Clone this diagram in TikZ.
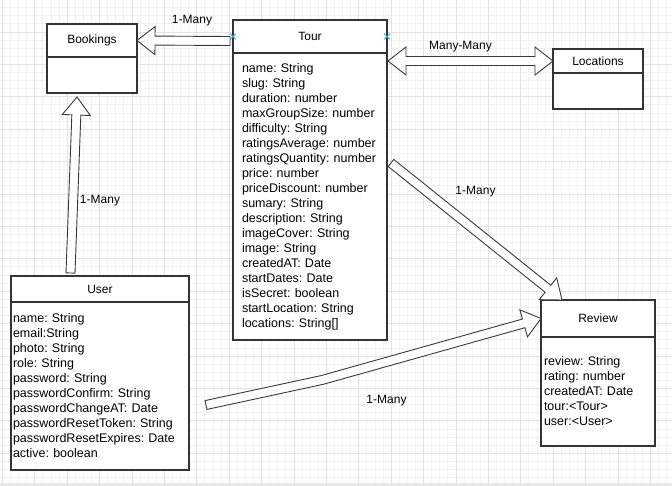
\documentclass[tikz,border=0pt]{standalone}
\usepackage{fontspec}
\setmainfont{Liberation Sans}
\usepackage{tikz}
\usetikzlibrary{positioning,calc,shapes.misc}
\definecolor{UmlLine}{HTML}{333333}
\definecolor{UmlArrow}{HTML}{3A3A3A}
\definecolor{UmlGridMinor}{HTML}{F2F2F2}
\definecolor{UmlGridMajor}{HTML}{E3E3E3}
\definecolor{UmlPin}{HTML}{3FA9E0}
\definecolor{UmlEdge}{HTML}{E8E8E8}
\frenchspacing
\tikzset{
  titlefont/.style={font=\fontsize{12}{14}\selectfont},
  attrfont/.style={font=\fontsize{12.5}{15}\selectfont},
  classhead/.style={draw=UmlLine, line width=1.3pt, fill=white, outer sep=0pt,
    inner sep=0pt, titlefont},
  classbody/.style={draw=UmlLine, line width=1.3pt, fill=white, outer sep=0pt,
    inner ysep=0pt, align=left, attrfont,
    execute at begin node={\frenchspacing\hyphenpenalty=10000}},
  flex/.style={draw=UmlArrow, line width=0.9pt, fill=white, line join=miter},
  relation/.style={titlefont, inner sep=1pt},
  xmark/.style={cross out, draw=UmlPin, line width=0.8pt, minimum size=5pt, inner sep=0pt},
  minorgrid/.style={draw=UmlGridMinor, line width=0.8pt},
  majorgrid/.style={draw=UmlGridMajor, line width=0.8pt}
}
% hollow wide arrow: start, tip
\newcommand{\flexarrow}[2]{%
  \coordinate (flexbase) at ($(#2)!18pt!(#1)$);
  \draw[flex] ($(#1)!4.5pt!90:(#2)$) -- ($(flexbase)!4.5pt!90:(#2)$)
    -- ($(flexbase)!14pt!90:(#2)$) -- (#2) -- ($(flexbase)!14pt!-90:(#2)$)
    -- ($(flexbase)!4.5pt!-90:(#2)$) -- ($(#1)!4.5pt!-90:(#2)$) -- cycle;}
% same, with one bend: start, bend, tip
\newcommand{\flexbent}[3]{%
  \coordinate (flexbase) at ($(#3)!18pt!(#2)$);
  \draw[flex] ($(#1)!4.5pt!90:(#2)$) -- ($(#2)!4.5pt!90:(#3)$)
    -- ($(flexbase)!4.5pt!90:(#3)$) -- ($(flexbase)!14pt!90:(#3)$) -- (#3)
    -- ($(flexbase)!14pt!-90:(#3)$) -- ($(flexbase)!4.5pt!-90:(#3)$)
    -- ($(#2)!4.5pt!-90:(#3)$) -- ($(#1)!4.5pt!-90:(#2)$) -- cycle;}
% two heads: tip, tip
\newcommand{\flexboth}[2]{%
  \coordinate (flexbasea) at ($(#1)!18pt!(#2)$);
  \coordinate (flexbaseb) at ($(#2)!18pt!(#1)$);
  \draw[flex] (#1) -- ($(flexbasea)!14pt!90:(#2)$) -- ($(flexbasea)!4.5pt!90:(#2)$)
    -- ($(flexbaseb)!4.5pt!-90:(#1)$) -- ($(flexbaseb)!14pt!-90:(#1)$) -- (#2)
    -- ($(flexbaseb)!14pt!90:(#1)$) -- ($(flexbaseb)!4.5pt!90:(#1)$)
    -- ($(flexbasea)!4.5pt!-90:(#2)$) -- ($(flexbasea)!14pt!-90:(#2)$) -- cycle;}

\begin{document}
\begin{tikzpicture}[x=1pt, y=-1pt]
  \useasboundingbox (0,0) rectangle (672,486);
  % canvas grid
  \fill[white] (0,0) rectangle (672,483);
  \foreach \gx in {0,...,82} \draw[minorgrid] ({2.3+8.1*\gx},0) -- ({2.3+8.1*\gx},483);
  \foreach \gy in {1,...,59} \draw[minorgrid] (0,{-0.4+8.1*\gy}) -- (672,{-0.4+8.1*\gy});
  \foreach \gx in {0,...,20} \draw[majorgrid] ({2.3+32.4*\gx},0) -- ({2.3+32.4*\gx},483);
  \foreach \gy in {1,...,14} \draw[majorgrid] (0,{-0.4+32.4*\gy}) -- (672,{-0.4+32.4*\gy});
  \fill[UmlEdge] (0,483) rectangle (672,486);

  % classes
  \node[classhead, anchor=north west, minimum width=90pt, minimum height=33pt] (bookhead) at (47,24) {Bookings};
  \node[classbody, below=0pt of bookhead, minimum width=90pt, minimum height=36pt] (bookbody) {};

  \node[classhead, anchor=north west, minimum width=154pt, minimum height=33pt] (tourhead) at (233,20) {Tour};
  \node[classbody, below=0pt of tourhead, inner xsep=9pt, text width=136pt, minimum height=287pt] (tourbody) {%
    name: String\\slug: String\\duration: number\\maxGroupSize: number\\difficulty: String\\
    ratingsAverage: number\\ratingsQuantity: number\\price: number\\priceDiscount: number\\
    sumary: String\\description: String\\imageCover: String\\image: String\\createdAT: Date\\
    startDates: Date\\isSecret: boolean\\startLocation: String\\locations: String[]};

  \node[classhead, anchor=north west, minimum width=90pt, minimum height=24pt] (lochead) at (553,49) {Locations};
  \node[classbody, below=0pt of lochead, minimum width=90pt, minimum height=36pt] (locbody) {};

  \node[classhead, anchor=north west, minimum width=178pt, minimum height=26pt] (userhead) at (11,276) {User};
  \node[classbody, below=0pt of userhead, inner xsep=2pt, text width=174pt, minimum height=168pt] (userbody) {%
    name: String\\email:String\\photo: String\\role: String\\password: String\\
    passwordConfirm: String\\passwordChangeAT: Date\\passwordResetToken: String\\
    passwordResetExpires: Date\\active: boolean};

  \node[classhead, anchor=north west, minimum width=114pt, minimum height=37pt] (revhead) at (541,300) {Review};
  \node[classbody, below=0pt of revhead, inner xsep=3pt, text width=108pt, minimum height=109pt] (revbody) {%
    review: String\\rating: number\\createdAT: Date\\tour:<Tour>\\user:<User>};

  \node[xmark] (tourpinl) at (tourhead.west) {};
  \node[xmark] (tourpinr) at (tourhead.east) {};

  % relations
  \coordinate (bookfrom) at (230,41);
  \coordinate (tourside) at (388,61);
  \coordinate (tourfrom) at (391,163);
  \coordinate (revin) at ($(revhead.north west)+(21,0)$);
  \coordinate (userfrom) at (206,405);
  \coordinate (userbend) at (322,380);
  \coordinate (usertop) at (70.5,273);
  \coordinate (bookin) at ($(bookbody.south west)+(30,4)$);

  \flexarrow{bookfrom}{bookhead.east}
  \flexboth{tourside}{lochead.west}
  \flexarrow{tourfrom}{revin}
  \flexbent{userfrom}{userbend}{revhead.west}
  \flexarrow{usertop}{bookin}

  \node[relation] (bookrel) at (192,21) {1-Many};
  \node[relation] (locrel) at (460.5,47) {Many-Many};
  \node[relation] (tourrevrel) at (475.5,192) {1-Many};
  \node[relation] (userrevrel) at (386.5,400.5) {1-Many};
  \node[relation] (userbookrel) at (100,201) {1-Many};
\end{tikzpicture}
\end{document}
